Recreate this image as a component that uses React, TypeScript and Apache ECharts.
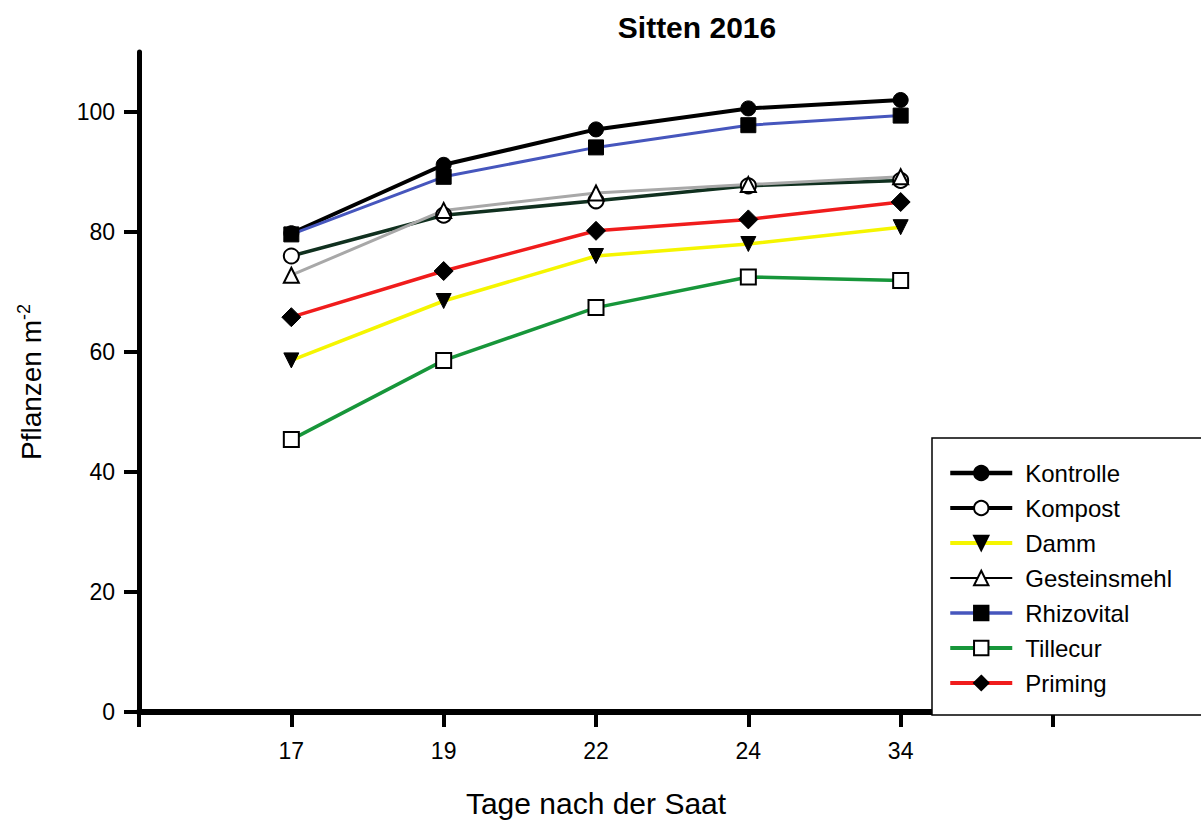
import React, { useEffect, useRef } from "react";
import * as echarts from "echarts";

const days = ["17", "19", "22", "24", "34"];
const axisCategories = ["", ...days, ""];
const yTicks = [0, 20, 40, 60, 80, 100];

const kontrolle = [79.8, 91.2, 97.1, 100.6, 102.0];
const kompost = [76.0, 82.8, 85.2, 87.7, 88.6];
const damm = [58.6, 68.5, 76.0, 78.0, 80.8];
const gesteinsmehl = [72.8, 83.6, 86.5, 87.9, 89.2];
const rhizovital = [79.6, 89.2, 94.1, 97.8, 99.4];
const tillecur = [45.4, 58.6, 67.4, 72.5, 71.9];
const priming = [65.8, 73.5, 80.2, 82.1, 85.0];

const FONT = "'Liberation Sans', Arial, Helvetica, sans-serif";

const pairs = (vals: number[]) => days.map((d, i) => [d, vals[i]]);

export default function App() {
  const ref = useRef<HTMLDivElement>(null);
  useEffect(() => {
    document.body.style.margin = "0";
    const chart = echarts.init(ref.current!, null, { renderer: "svg" });
    const filled = { color: "#000", borderColor: "#000", borderWidth: 1 };
    const hollow = { color: "#fff", borderColor: "#000", borderWidth: 2 };
    const mk = (
      name: string,
      vals: number[],
      lineColor: string,
      lineWidth: number,
      symbol: string,
      item: any,
      extra: any = {}
    ) => ({
      name,
      type: "line",
      data: pairs(vals),
      symbol,
      symbolSize: 15,
      lineStyle: { color: lineColor, width: lineWidth },
      itemStyle: item,
      emphasis: { disabled: true },
      ...extra,
    });
    chart.setOption({
      animation: false,
      backgroundColor: "#fff",
      title: {
        text: "Sitten 2016",
        left: 692,
        textAlign: "center",
        top: 7,
        textStyle: { fontFamily: FONT, fontSize: 30, fontWeight: "bold", color: "#000" },
      },
      grid: { left: 139, right: 148, top: 52, bottom: 112, containLabel: false },
      xAxis: {
        type: "category",
        data: axisCategories,
        boundaryGap: false,
        name: "Tage nach der Saat",
        nameLocation: "middle",
        nameGap: 76,
        nameTextStyle: { fontFamily: FONT, fontSize: 30, color: "#000" },
        axisLine: { lineStyle: { color: "#000", width: 6 } },
        axisTick: { show: true, length: 15, lineStyle: { color: "#000", width: 4 } },
        axisLabel: { fontFamily: FONT, fontSize: 23, color: "#000", margin: 27 },
        splitLine: { show: false },
      },
      yAxis: {
        type: "value",
        min: 0,
        max: 110,
        interval: 20,
        name: "{a|Pflanzen m}{b|-2}",
        nameLocation: "middle",
        nameGap: 92,
        nameRotate: 90,
        nameTextStyle: {
          fontFamily: FONT,
          color: "#000",
          rich: {
            a: { fontFamily: FONT, fontSize: 28, color: "#000" },
            b: { fontFamily: FONT, fontSize: 18, color: "#000", verticalAlign: "top", padding: [0, 0, 14, 0] },
          },
        },
        axisLine: { show: true, lineStyle: { color: "#000", width: 5 } },
        axisTick: { show: true, length: 15, customValues: yTicks, lineStyle: { color: "#000", width: 4 } },
        axisLabel: { fontFamily: FONT, fontSize: 23, color: "#000", margin: 24, customValues: yTicks },
        splitLine: { show: false },
      },
      legend: {
        orient: "vertical",
        left: 932,
        top: 438,
        padding: [23, 40, 20, 16],
        itemWidth: 62,
        itemHeight: 18,
        itemGap: 11,
        backgroundColor: "#fff",
        borderColor: "#000",
        borderWidth: 1.5,
        borderRadius: 0,
        textStyle: { fontFamily: FONT, fontSize: 24, color: "#000", lineHeight: 24, padding: [0, 0, 0, 8] },
        data: [
          { name: "Kontrolle", lineStyle: { width: 4.5 } },
          { name: "Kompost", lineStyle: { color: "#000", width: 4 } },
          { name: "Damm", lineStyle: { width: 4 } },
          { name: "Gesteinsmehl", lineStyle: { color: "#000", width: 2 } },
          { name: "Rhizovital", lineStyle: { width: 3.5 } },
          { name: "Tillecur", lineStyle: { width: 4 } },
          { name: "Priming", lineStyle: { width: 4 } },
        ],
      },
      series: [
        mk("Kontrolle", kontrolle, "#000000", 4, "circle", filled),
        mk("Kompost", kompost, "#10301f", 3.5, "circle", hollow),
        mk("Damm", damm, "#f5f500", 3.5, "triangle", filled, { symbolRotate: 180 }),
        mk("Gesteinsmehl", gesteinsmehl, "#a8a8a8", 3, "triangle", hollow),
        mk("Rhizovital", rhizovital, "#4656bd", 3, "rect", filled),
        mk("Tillecur", tillecur, "#17963a", 3.5, "rect", hollow),
        mk("Priming", priming, "#f01c1c", 3.5, "diamond", filled, { symbolSize: 19 }),
      ],
    });
    return () => chart.dispose();
  }, []);
  return <div ref={ref} style={{ width: 1201, height: 824 }} />;
}
